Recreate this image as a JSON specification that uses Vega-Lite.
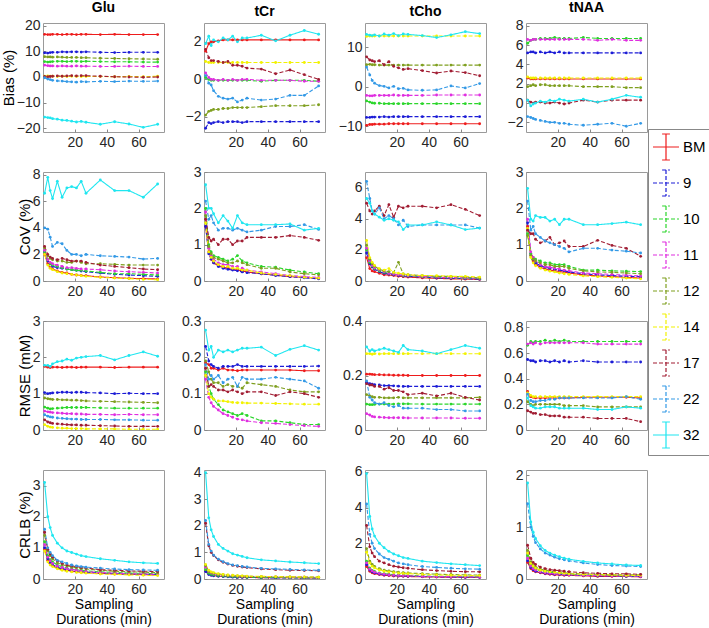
{
"$schema":"https://vega.github.io/schema/vega-lite/v6.json",
"padding":{"left":0,"top":0,"right":0,"bottom":0},
"datasets":{"d":[
{"m":"B","c":"Glu","s":"BM","x":[1,3,4.5,6,9,12,15,18,21,24,27,36,45,54,63,72],"y":[16.6,16.5,16.5,16.6,16.6,16.5,16.6,16.6,16.5,16.6,16.6,16.5,16.6,16.5,16.5,16.5]},
{"m":"B","c":"Glu","s":"9","x":[1,3,4.5,6,9,12,15,18,21,24,27,36,45,54,63,72],"y":[9.4,9.3,9.5,9.6,9.6,9.8,9.7,9.8,9.8,9.7,9.8,9.6,9.5,9.6,9.6,9.6]},
{"m":"B","c":"Glu","s":"10","x":[1,3,4.5,6,9,12,15,18,21,24,27,36,45,54,63,72],"y":[6.0,5.8,5.9,6.0,6.1,6.1,6.0,6.1,6.1,6.0,6.1,6.0,5.9,5.9,5.8,5.8]},
{"m":"B","c":"Glu","s":"11","x":[1,3,4.5,6,9,12,15,18,21,24,27,36,45,54,63,72],"y":[4.6,4.4,4.3,4.3,4.2,4.3,4.2,4.2,4.3,4.2,4.2,4.1,4.1,4.2,4.1,4.1]},
{"m":"B","c":"Glu","s":"12","x":[1,3,4.5,6,9,12,15,18,21,24,27,36,45,54,63,72],"y":[7.9,7.8,7.8,7.7,7.8,7.7,7.6,7.6,7.6,7.5,7.5,7.3,7.2,7.1,7.0,6.9]},
{"m":"B","c":"Glu","s":"14","x":[1,3,4.5,6,9,12,15,18,21,24,27,36,45,54,63,72],"y":[0.3,0.4,0.3,0.3,0.2,0.3,0.2,0.3,0.2,0.2,0.2,0.2,0.1,0.2,0.1,0.3]},
{"m":"B","c":"Glu","s":"17","x":[1,3,4.5,6,9,12,15,18,21,24,27,36,45,54,63,72],"y":[0.2,0.1,0.2,0.3,0.4,0.3,0.4,0.5,0.4,0.5,0.5,0.3,0.1,0.0,-0.1,0.0]},
{"m":"B","c":"Glu","s":"22","x":[1,3,4.5,6,9,12,15,18,21,24,27,36,45,54,63,72],"y":[-0.3,-0.8,-1.0,-1.3,-1.5,-1.6,-1.8,-1.9,-2.0,-1.8,-1.9,-1.7,-1.8,-1.6,-1.7,-1.6]},
{"m":"B","c":"Glu","s":"32","x":[1,3,4.5,6,9,12,15,18,21,24,27,36,45,54,63,72],"y":[-15.6,-15.8,-15.9,-16.2,-16.4,-16.8,-16.9,-17.2,-17.5,-17.3,-17.6,-18.4,-17.4,-18.3,-19.6,-18.4]},
{"m":"B","c":"tCr","s":"BM","x":[1,3,4.5,6,9,12,15,18,21,24,27,36,45,54,63,72],"y":[1.5,1.9,2.0,2.0,2.05,2.1,2.1,2.1,2.1,2.1,2.1,2.1,2.1,2.1,2.1,2.1]},
{"m":"B","c":"tCr","s":"9","x":[1,3,4.5,6,9,12,15,18,21,24,27,36,45,54,63,72],"y":[-2.6,-2.3,-2.35,-2.3,-2.25,-2.3,-2.25,-2.25,-2.25,-2.3,-2.25,-2.25,-2.25,-2.25,-2.25,-2.25]},
{"m":"B","c":"tCr","s":"10","x":[1,3,4.5,6,9,12,15,18,21,24,27,36,45,54,63,72],"y":[0.1,0.0,-0.05,-0.05,-0.05,-0.05,-0.05,-0.05,-0.05,-0.05,-0.05,-0.1,-0.05,-0.05,-0.05,-0.1]},
{"m":"B","c":"tCr","s":"11","x":[1,3,4.5,6,9,12,15,18,21,24,27,36,45,54,63,72],"y":[0.35,0.1,0.0,0.0,-0.05,0.0,-0.05,0.0,-0.05,0.0,0.0,-0.05,-0.05,-0.05,-0.1,-0.1]},
{"m":"B","c":"tCr","s":"12","x":[1,3,4.5,6,9,12,15,18,21,24,27,36,45,54,63,72],"y":[-1.9,-1.7,-1.65,-1.6,-1.6,-1.55,-1.55,-1.5,-1.5,-1.5,-1.5,-1.45,-1.4,-1.4,-1.4,-1.35]},
{"m":"B","c":"tCr","s":"14","x":[1,3,4.5,6,9,12,15,18,21,24,27,36,45,54,63,72],"y":[0.95,0.9,0.9,0.9,0.9,0.9,0.9,0.9,0.9,0.9,0.9,0.9,0.9,0.9,0.9,0.9]},
{"m":"B","c":"tCr","s":"17","x":[1,3,4.5,6,9,12,15,18,21,24,27,36,45,54,63,72],"y":[1.6,1.15,1.0,1.0,0.95,0.9,0.95,0.75,0.75,0.7,0.6,0.55,0.3,0.5,0.25,0.0]},
{"m":"B","c":"tCr","s":"22","x":[1,3,4.5,6,9,12,15,18,21,24,27,36,45,54,63,72],"y":[0.2,-0.2,-0.3,-0.6,-0.9,-1.0,-1.05,-1.0,-1.2,-1.1,-1.0,-1.1,-1.05,-0.85,-0.85,-0.35]},
{"m":"B","c":"tCr","s":"32","x":[1,3,4.5,6,9,12,15,18,21,24,27,36,45,54,63,72],"y":[1.9,2.3,1.8,2.1,2.0,2.2,2.1,2.3,2.0,2.2,2.2,2.35,2.05,2.35,2.6,2.4]},
{"m":"B","c":"tCho","s":"BM","x":[1,3,4.5,6,9,12,15,18,21,24,27,36,45,54,63,72],"y":[-9.8,-9.6,-9.6,-9.5,-9.5,-9.5,-9.4,-9.4,-9.4,-9.4,-9.4,-9.4,-9.4,-9.4,-9.4,-9.4]},
{"m":"B","c":"tCho","s":"9","x":[1,3,4.5,6,9,12,15,18,21,24,27,36,45,54,63,72],"y":[-7.8,-7.8,-7.7,-7.7,-7.7,-7.6,-7.7,-7.6,-7.6,-7.6,-7.6,-7.6,-7.6,-7.6,-7.6,-7.6]},
{"m":"B","c":"tCho","s":"10","x":[1,3,4.5,6,9,12,15,18,21,24,27,36,45,54,63,72],"y":[-3.6,-3.9,-4.1,-4.2,-4.2,-4.3,-4.3,-4.3,-4.3,-4.3,-4.3,-4.3,-4.3,-4.3,-4.3,-4.3]},
{"m":"B","c":"tCho","s":"11","x":[1,3,4.5,6,9,12,15,18,21,24,27,36,45,54,63,72],"y":[-2.2,-2.3,-2.3,-2.2,-2.2,-2.2,-2.2,-2.1,-2.2,-2.2,-2.2,-2.2,-2.1,-2.1,-2.1,-2.1]},
{"m":"B","c":"tCho","s":"12","x":[1,3,4.5,6,9,12,15,18,21,24,27,36,45,54,63,72],"y":[5.6,5.7,5.6,5.6,5.5,5.5,5.5,5.5,5.5,5.5,5.5,5.5,5.5,5.5,5.5,5.5]},
{"m":"B","c":"tCho","s":"14","x":[1,3,4.5,6,9,12,15,18,21,24,27,36,45,54,63,72],"y":[12.8,12.9,12.9,12.9,12.9,12.9,12.9,12.9,12.9,12.9,12.9,12.9,12.9,12.9,12.9,12.9]},
{"m":"B","c":"tCho","s":"17","x":[1,3,4.5,6,9,12,15,18,21,24,27,36,45,54,63,72],"y":[7.6,6.8,6.6,6.4,6.6,5.6,6.4,5.2,4.8,4.4,4.6,4.1,3.5,4.0,3.6,2.8]},
{"m":"B","c":"tCho","s":"22","x":[1,3,4.5,6,9,12,15,18,21,24,27,36,45,54,63,72],"y":[5.0,3.0,1.6,0.9,0.3,0.1,-0.3,0.1,-0.5,-0.4,-0.8,-0.9,-0.8,0.2,-0.3,0.8]},
{"m":"B","c":"tCho","s":"32","x":[1,3,4.5,6,9,12,15,18,21,24,27,36,45,54,63,72],"y":[13.3,13.1,13.0,13.2,12.9,13.4,13.1,13.5,13.0,13.4,13.3,13.0,12.5,13.2,14.0,13.5]},
{"m":"B","c":"tNAA","s":"BM","x":[1,3,4.5,6,9,12,15,18,21,24,27,36,45,54,63,72],"y":[2.6,2.5,2.5,2.5,2.5,2.5,2.5,2.5,2.5,2.5,2.5,2.5,2.5,2.5,2.5,2.5]},
{"m":"B","c":"tNAA","s":"9","x":[1,3,4.5,6,9,12,15,18,21,24,27,36,45,54,63,72],"y":[5.2,5.3,5.3,5.2,5.3,5.2,5.3,5.2,5.3,5.2,5.2,5.2,5.2,5.2,5.2,5.2]},
{"m":"B","c":"tNAA","s":"10","x":[1,3,4.5,6,9,12,15,18,21,24,27,36,45,54,63,72],"y":[6.2,6.5,6.6,6.6,6.7,6.7,6.7,6.8,6.7,6.7,6.7,6.8,6.7,6.7,6.7,6.7]},
{"m":"B","c":"tNAA","s":"11","x":[1,3,4.5,6,9,12,15,18,21,24,27,36,45,54,63,72],"y":[6.6,6.5,6.6,6.6,6.6,6.6,6.6,6.6,6.6,6.6,6.6,6.6,6.5,6.6,6.5,6.5]},
{"m":"B","c":"tNAA","s":"12","x":[1,3,4.5,6,9,12,15,18,21,24,27,36,45,54,63,72],"y":[1.7,1.8,1.9,1.8,1.9,1.9,1.8,1.8,1.8,1.8,1.8,1.7,1.7,1.7,1.6,1.6]},
{"m":"B","c":"tNAA","s":"14","x":[1,3,4.5,6,9,12,15,18,21,24,27,36,45,54,63,72],"y":[2.7,2.6,2.6,2.6,2.6,2.6,2.6,2.6,2.6,2.6,2.6,2.6,2.6,2.6,2.6,2.6]},
{"m":"B","c":"tNAA","s":"17","x":[1,3,4.5,6,9,12,15,18,21,24,27,36,45,54,63,72],"y":[0.3,0.1,0.0,0.1,0.1,0.0,0.0,0.1,0.0,-0.1,0.0,0.3,0.1,0.3,0.3,0.3]},
{"m":"B","c":"tNAA","s":"22","x":[1,3,4.5,6,9,12,15,18,21,24,27,36,45,54,63,72],"y":[-1.4,-1.5,-1.6,-1.7,-1.8,-1.9,-2.0,-2.0,-2.1,-2.1,-2.2,-2.3,-2.2,-2.1,-2.4,-2.1]},
{"m":"B","c":"tNAA","s":"32","x":[1,3,4.5,6,9,12,15,18,21,24,27,36,45,54,63,72],"y":[0.3,-0.3,-0.1,0.0,0.2,0.1,0.3,0.2,0.4,0.3,0.2,0.4,0.1,0.4,0.8,0.6]},
{"m":"C","c":"Glu","s":"BM","x":[1,3,4.5,6,9,12,15,18,21,24,27,36,45,54,63,72],"y":[2.0,1.3,1.0,0.9,0.75,0.65,0.6,0.5,0.45,0.42,0.4,0.3,0.25,0.2,0.18,0.15]},
{"m":"C","c":"Glu","s":"9","x":[1,3,4.5,6,9,12,15,18,21,24,27,36,45,54,63,72],"y":[2.2,1.5,1.3,1.1,1.0,0.95,0.9,0.85,0.8,0.75,0.7,0.6,0.5,0.45,0.4,0.35]},
{"m":"C","c":"Glu","s":"10","x":[1,3,4.5,6,9,12,15,18,21,24,27,36,45,54,63,72],"y":[2.2,1.6,1.3,1.2,1.1,1.0,0.9,0.85,0.8,0.8,0.75,0.65,0.55,0.55,0.5,0.45]},
{"m":"C","c":"Glu","s":"11","x":[1,3,4.5,6,9,12,15,18,21,24,27,36,45,54,63,72],"y":[2.3,1.6,1.4,1.3,1.2,1.1,1.0,1.0,0.95,0.9,0.9,0.85,0.75,0.7,0.65,0.6]},
{"m":"C","c":"Glu","s":"12","x":[1,3,4.5,6,9,12,15,18,21,24,27,36,45,54,63,72],"y":[2.5,1.9,1.7,1.6,1.5,1.5,1.4,1.4,1.5,1.4,1.3,1.3,1.25,1.2,1.2,1.2]},
{"m":"C","c":"Glu","s":"14","x":[1,3,4.5,6,9,12,15,18,21,24,27,36,45,54,63,72],"y":[2.0,1.2,0.95,0.85,0.7,0.6,0.55,0.5,0.45,0.4,0.35,0.28,0.22,0.18,0.12,0.1]},
{"m":"C","c":"Glu","s":"17","x":[1,3,4.5,6,9,12,15,18,21,24,27,36,45,54,63,72],"y":[2.6,2.0,1.8,1.7,1.6,1.7,1.6,1.5,1.5,1.5,1.4,1.2,1.1,1.0,0.9,0.85]},
{"m":"C","c":"Glu","s":"22","x":[1,3,4.5,6,9,12,15,18,21,24,27,36,45,54,63,72],"y":[4.0,3.9,3.3,2.6,2.9,2.8,2.3,2.0,2.0,1.9,2.0,1.9,1.85,1.8,1.65,1.7]},
{"m":"C","c":"Glu","s":"32","x":[1,3,4.5,6,9,12,15,18,21,24,27,36,45,54,63,72],"y":[6.6,7.8,6.8,6.2,7.5,6.3,7.0,7.1,7.0,7.5,6.6,7.6,6.8,6.8,6.3,7.3]},
{"m":"C","c":"tCr","s":"BM","x":[1,3,4.5,6,9,12,15,18,21,24,27,36,45,54,63,72],"y":[1.5,0.8,0.6,0.5,0.42,0.38,0.35,0.32,0.3,0.28,0.25,0.2,0.16,0.12,0.1,0.07]},
{"m":"C","c":"tCr","s":"9","x":[1,3,4.5,6,9,12,15,18,21,24,27,36,45,54,63,72],"y":[1.5,0.75,0.6,0.5,0.4,0.35,0.32,0.3,0.28,0.25,0.23,0.2,0.15,0.12,0.09,0.06]},
{"m":"C","c":"tCr","s":"10","x":[1,3,4.5,6,9,12,15,18,21,24,27,36,45,54,63,72],"y":[2.0,1.0,0.8,0.7,0.65,0.6,0.55,0.6,0.7,0.55,0.5,0.4,0.38,0.3,0.25,0.2]},
{"m":"C","c":"tCr","s":"11","x":[1,3,4.5,6,9,12,15,18,21,24,27,36,45,54,63,72],"y":[1.9,0.9,0.7,0.6,0.5,0.45,0.45,0.4,0.4,0.35,0.3,0.25,0.2,0.15,0.12,0.1]},
{"m":"C","c":"tCr","s":"12","x":[1,3,4.5,6,9,12,15,18,21,24,27,36,45,54,63,72],"y":[1.8,0.95,0.75,0.65,0.6,0.55,0.5,0.5,0.55,0.5,0.45,0.35,0.35,0.25,0.2,0.17]},
{"m":"C","c":"tCr","s":"14","x":[1,3,4.5,6,9,12,15,18,21,24,27,36,45,54,63,72],"y":[1.6,0.8,0.65,0.55,0.45,0.4,0.4,0.35,0.35,0.3,0.3,0.22,0.18,0.15,0.1,0.08]},
{"m":"C","c":"tCr","s":"17","x":[1,3,4.5,6,9,12,15,18,21,24,27,36,45,54,63,72],"y":[1.7,1.2,1.1,1.15,1.0,1.15,1.15,1.0,1.1,1.1,1.2,1.2,1.2,1.25,1.2,1.12]},
{"m":"C","c":"tCr","s":"22","x":[1,3,4.5,6,9,12,15,18,21,24,27,36,45,54,63,72],"y":[2.2,1.7,1.8,1.6,1.4,1.45,1.45,1.4,1.45,1.4,1.35,1.4,1.5,1.5,1.55,1.42]},
{"m":"C","c":"tCr","s":"32","x":[1,3,4.5,6,9,12,15,18,21,24,27,36,45,54,63,72],"y":[2.65,2.0,2.0,1.85,1.6,1.8,1.65,1.45,1.8,1.6,1.55,1.55,1.55,1.57,1.4,1.45]},
{"m":"C","c":"tCho","s":"BM","x":[1,3,4.5,6,9,12,15,18,21,24,27,36,45,54,63,72],"y":[1.5,0.8,0.65,0.6,0.5,0.4,0.38,0.35,0.3,0.28,0.25,0.2,0.17,0.14,0.12,0.1]},
{"m":"C","c":"tCho","s":"9","x":[1,3,4.5,6,9,12,15,18,21,24,27,36,45,54,63,72],"y":[1.8,1.1,0.9,0.75,0.6,0.5,0.45,0.4,0.35,0.32,0.3,0.25,0.2,0.17,0.15,0.12]},
{"m":"C","c":"tCho","s":"10","x":[1,3,4.5,6,9,12,15,18,21,24,27,36,45,54,63,72],"y":[2.0,1.2,0.95,0.8,0.65,0.55,0.5,0.45,0.4,0.35,0.33,0.28,0.25,0.2,0.18,0.15]},
{"m":"C","c":"tCho","s":"11","x":[1,3,4.5,6,9,12,15,18,21,24,27,36,45,54,63,72],"y":[2.1,1.3,1.0,0.85,0.7,0.6,0.5,0.45,0.4,0.38,0.35,0.3,0.25,0.22,0.2,0.18]},
{"m":"C","c":"tCho","s":"12","x":[1,3,4.5,6,9,12,15,18,21,24,27,36,45,54,63,72],"y":[2.3,1.4,1.1,0.95,0.75,0.65,0.6,0.55,1.2,0.45,0.4,0.35,0.3,0.3,0.25,0.2]},
{"m":"C","c":"tCho","s":"14","x":[1,3,4.5,6,9,12,15,18,21,24,27,36,45,54,63,72],"y":[2.6,1.5,1.2,1.0,0.8,0.7,0.8,0.55,0.5,0.45,0.4,0.35,0.35,0.3,0.3,0.25]},
{"m":"C","c":"tCho","s":"17","x":[1,3,4.5,6,9,12,15,18,21,24,27,36,45,54,63,72],"y":[5.0,4.5,4.3,4.5,4.8,4.2,4.9,4.1,4.8,4.7,4.8,4.8,4.7,4.9,4.6,4.2]},
{"m":"C","c":"tCho","s":"22","x":[1,3,4.5,6,9,12,15,18,21,24,27,36,45,54,63,72],"y":[6.4,5.3,4.5,4.3,4.7,4.0,4.2,4.0,3.6,3.9,3.5,3.6,3.6,3.6,3.6,3.4]},
{"m":"C","c":"tCho","s":"32","x":[1,3,4.5,6,9,12,15,18,21,24,27,36,45,54,63,72],"y":[5.3,5.0,4.5,4.3,4.1,3.9,4.0,3.9,3.8,3.3,3.6,3.6,3.8,3.6,3.3,3.4]},
{"m":"C","c":"tNAA","s":"BM","x":[1,3,4.5,6,9,12,15,18,21,24,27,36,45,54,63,72],"y":[1.5,0.7,0.55,0.45,0.38,0.33,0.3,0.28,0.26,0.24,0.22,0.17,0.14,0.12,0.1,0.08]},
{"m":"C","c":"tNAA","s":"9","x":[1,3,4.5,6,9,12,15,18,21,24,27,36,45,54,63,72],"y":[1.6,0.75,0.6,0.5,0.42,0.38,0.35,0.32,0.3,0.28,0.25,0.2,0.17,0.15,0.13,0.12]},
{"m":"C","c":"tNAA","s":"10","x":[1,3,4.5,6,9,12,15,18,21,24,27,36,45,54,63,72],"y":[1.3,0.75,0.65,0.6,0.55,0.5,0.5,0.45,0.45,0.45,0.4,0.3,0.3,0.28,0.27,0.26]},
{"m":"C","c":"tNAA","s":"11","x":[1,3,4.5,6,9,12,15,18,21,24,27,36,45,54,63,72],"y":[1.7,0.8,0.65,0.55,0.45,0.4,0.38,0.35,0.33,0.3,0.28,0.22,0.2,0.18,0.16,0.14]},
{"m":"C","c":"tNAA","s":"12","x":[1,3,4.5,6,9,12,15,18,21,24,27,36,45,54,63,72],"y":[1.25,0.7,0.6,0.55,0.5,0.45,0.45,0.4,0.4,0.4,0.35,0.28,0.25,0.24,0.22,0.2]},
{"m":"C","c":"tNAA","s":"14","x":[1,3,4.5,6,9,12,15,18,21,24,27,36,45,54,63,72],"y":[1.45,0.65,0.5,0.42,0.35,0.3,0.27,0.25,0.22,0.2,0.18,0.14,0.12,0.1,0.08,0.06]},
{"m":"C","c":"tNAA","s":"17","x":[1,3,4.5,6,9,12,15,18,21,24,27,36,45,54,63,72],"y":[1.4,1.3,1.3,1.15,1.05,1.1,1.2,1.0,1.05,1.1,0.95,0.95,1.12,0.98,0.9,0.68]},
{"m":"C","c":"tNAA","s":"22","x":[1,3,4.5,6,9,12,15,18,21,24,27,36,45,54,63,72],"y":[2.2,1.4,1.5,1.3,1.2,1.1,1.05,1.0,0.95,0.9,0.8,0.9,0.9,0.85,0.82,0.77]},
{"m":"C","c":"tNAA","s":"32","x":[1,3,4.5,6,9,12,15,18,21,24,27,36,45,54,63,72],"y":[2.55,1.7,1.65,1.8,1.75,1.75,1.65,1.7,1.55,1.7,1.7,1.55,1.55,1.58,1.62,1.55]},
{"m":"R","c":"Glu","s":"BM","x":[1,3,4.5,6,9,12,15,18,21,24,27,36,45,54,63,72],"y":[1.75,1.73,1.72,1.73,1.73,1.72,1.73,1.73,1.72,1.73,1.73,1.73,1.72,1.73,1.73,1.73]},
{"m":"R","c":"Glu","s":"9","x":[1,3,4.5,6,9,12,15,18,21,24,27,36,45,54,63,72],"y":[1.03,1.0,1.01,1.02,1.03,1.04,1.04,1.03,1.04,1.04,1.03,1.02,1.0,1.01,1.0,1.0]},
{"m":"R","c":"Glu","s":"10","x":[1,3,4.5,6,9,12,15,18,21,24,27,36,45,54,63,72],"y":[0.63,0.6,0.58,0.59,0.6,0.61,0.62,0.62,0.62,0.62,0.62,0.61,0.6,0.6,0.6,0.6]},
{"m":"R","c":"Glu","s":"11","x":[1,3,4.5,6,9,12,15,18,21,24,27,36,45,54,63,72],"y":[0.52,0.5,0.49,0.48,0.47,0.46,0.45,0.45,0.44,0.44,0.43,0.43,0.42,0.43,0.42,0.42]},
{"m":"R","c":"Glu","s":"12","x":[1,3,4.5,6,9,12,15,18,21,24,27,36,45,54,63,72],"y":[0.88,0.86,0.85,0.84,0.84,0.83,0.83,0.82,0.82,0.81,0.8,0.79,0.78,0.77,0.76,0.75]},
{"m":"R","c":"Glu","s":"14","x":[1,3,4.5,6,9,12,15,18,21,24,27,36,45,54,63,72],"y":[0.15,0.1,0.08,0.07,0.06,0.05,0.05,0.04,0.04,0.04,0.03,0.03,0.03,0.02,0.02,0.02]},
{"m":"R","c":"Glu","s":"17","x":[1,3,4.5,6,9,12,15,18,21,24,27,36,45,54,63,72],"y":[0.28,0.22,0.2,0.18,0.17,0.16,0.15,0.14,0.14,0.13,0.13,0.12,0.11,0.1,0.1,0.1]},
{"m":"R","c":"Glu","s":"22","x":[1,3,4.5,6,9,12,15,18,21,24,27,36,45,54,63,72],"y":[0.42,0.38,0.36,0.35,0.33,0.32,0.31,0.3,0.3,0.29,0.29,0.29,0.28,0.28,0.27,0.27]},
{"m":"R","c":"Glu","s":"32","x":[1,3,4.5,6,9,12,15,18,21,24,27,36,45,54,63,72],"y":[1.78,1.78,1.75,1.82,1.88,1.9,1.95,1.92,1.98,2.0,2.02,2.05,1.93,2.05,2.15,2.03]},
{"m":"R","c":"tCr","s":"BM","x":[1,3,4.5,6,9,12,15,18,21,24,27,36,45,54,63,72],"y":[0.185,0.18,0.17,0.17,0.165,0.17,0.165,0.165,0.163,0.165,0.165,0.165,0.165,0.165,0.163,0.163]},
{"m":"R","c":"tCr","s":"9","x":[1,3,4.5,6,9,12,15,18,21,24,27,36,45,54,63,72],"y":[0.23,0.19,0.18,0.175,0.17,0.175,0.175,0.175,0.18,0.175,0.175,0.175,0.175,0.175,0.175,0.176]},
{"m":"R","c":"tCr","s":"10","x":[1,3,4.5,6,9,12,15,18,21,24,27,36,45,54,63,72],"y":[0.16,0.12,0.1,0.085,0.07,0.055,0.05,0.045,0.04,0.045,0.04,0.025,0.025,0.02,0.015,0.015]},
{"m":"R","c":"tCr","s":"11","x":[1,3,4.5,6,9,12,15,18,21,24,27,36,45,54,63,72],"y":[0.14,0.09,0.075,0.065,0.055,0.045,0.04,0.035,0.03,0.028,0.025,0.02,0.018,0.015,0.012,0.01]},
{"m":"R","c":"tCr","s":"12","x":[1,3,4.5,6,9,12,15,18,21,24,27,36,45,54,63,72],"y":[0.19,0.16,0.14,0.13,0.13,0.12,0.125,0.12,0.12,0.115,0.13,0.125,0.12,0.11,0.105,0.105]},
{"m":"R","c":"tCr","s":"14","x":[1,3,4.5,6,9,12,15,18,21,24,27,36,45,54,63,72],"y":[0.15,0.1,0.09,0.085,0.08,0.08,0.078,0.076,0.075,0.075,0.074,0.074,0.073,0.072,0.071,0.071]},
{"m":"R","c":"tCr","s":"17","x":[1,3,4.5,6,9,12,15,18,21,24,27,36,45,54,63,72],"y":[0.17,0.12,0.125,0.12,0.11,0.11,0.105,0.11,0.105,0.1,0.105,0.105,0.095,0.105,0.1,0.09]},
{"m":"R","c":"tCr","s":"22","x":[1,3,4.5,6,9,12,15,18,21,24,27,36,45,54,63,72],"y":[0.18,0.14,0.15,0.14,0.15,0.13,0.14,0.145,0.12,0.145,0.14,0.14,0.145,0.14,0.135,0.115]},
{"m":"R","c":"tCr","s":"32","x":[1,3,4.5,6,9,12,15,18,21,24,27,36,45,54,63,72],"y":[0.275,0.22,0.23,0.2,0.22,0.215,0.22,0.215,0.22,0.225,0.225,0.228,0.205,0.222,0.232,0.22]},
{"m":"R","c":"tCho","s":"BM","x":[1,3,4.5,6,9,12,15,18,21,24,27,36,45,54,63,72],"y":[0.205,0.205,0.204,0.203,0.203,0.202,0.202,0.201,0.201,0.201,0.2,0.2,0.2,0.2,0.2,0.2]},
{"m":"R","c":"tCho","s":"9","x":[1,3,4.5,6,9,12,15,18,21,24,27,36,45,54,63,72],"y":[0.175,0.17,0.168,0.166,0.165,0.163,0.163,0.162,0.161,0.16,0.16,0.16,0.16,0.16,0.16,0.16]},
{"m":"R","c":"tCho","s":"10","x":[1,3,4.5,6,9,12,15,18,21,24,27,36,45,54,63,72],"y":[0.095,0.093,0.093,0.094,0.095,0.095,0.095,0.095,0.096,0.096,0.096,0.095,0.095,0.095,0.095,0.095]},
{"m":"R","c":"tCho","s":"11","x":[1,3,4.5,6,9,12,15,18,21,24,27,36,45,54,63,72],"y":[0.06,0.055,0.05,0.048,0.047,0.046,0.045,0.045,0.045,0.045,0.044,0.044,0.044,0.044,0.043,0.043]},
{"m":"R","c":"tCho","s":"12","x":[1,3,4.5,6,9,12,15,18,21,24,27,36,45,54,63,72],"y":[0.13,0.125,0.122,0.12,0.12,0.118,0.118,0.118,0.12,0.118,0.118,0.118,0.118,0.118,0.118,0.12]},
{"m":"R","c":"tCho","s":"14","x":[1,3,4.5,6,9,12,15,18,21,24,27,36,45,54,63,72],"y":[0.28,0.28,0.278,0.28,0.279,0.28,0.28,0.28,0.28,0.28,0.28,0.28,0.28,0.28,0.28,0.28]},
{"m":"R","c":"tCho","s":"17","x":[1,3,4.5,6,9,12,15,18,21,24,27,36,45,54,63,72],"y":[0.17,0.165,0.165,0.16,0.16,0.15,0.155,0.145,0.145,0.14,0.13,0.135,0.125,0.135,0.12,0.11]},
{"m":"R","c":"tCho","s":"22","x":[1,3,4.5,6,9,12,15,18,21,24,27,36,45,54,63,72],"y":[0.18,0.12,0.11,0.1,0.095,0.1,0.09,0.085,0.09,0.08,0.08,0.08,0.075,0.075,0.07,0.07]},
{"m":"R","c":"tCho","s":"32","x":[1,3,4.5,6,9,12,15,18,21,24,27,36,45,54,63,72],"y":[0.305,0.29,0.295,0.29,0.295,0.3,0.295,0.29,0.285,0.31,0.295,0.29,0.28,0.295,0.31,0.3]},
{"m":"R","c":"tNAA","s":"BM","x":[1,3,4.5,6,9,12,15,18,21,24,27,36,45,54,63,72],"y":[0.3,0.26,0.255,0.25,0.25,0.25,0.25,0.25,0.25,0.25,0.25,0.255,0.255,0.255,0.255,0.25]},
{"m":"R","c":"tNAA","s":"9","x":[1,3,4.5,6,9,12,15,18,21,24,27,36,45,54,63,72],"y":[0.55,0.54,0.54,0.53,0.54,0.54,0.53,0.54,0.53,0.54,0.53,0.54,0.53,0.53,0.53,0.53]},
{"m":"R","c":"tNAA","s":"10","x":[1,3,4.5,6,9,12,15,18,21,24,27,36,45,54,63,72],"y":[0.66,0.69,0.68,0.69,0.69,0.7,0.69,0.7,0.69,0.7,0.69,0.69,0.69,0.69,0.69,0.69]},
{"m":"R","c":"tNAA","s":"11","x":[1,3,4.5,6,9,12,15,18,21,24,27,36,45,54,63,72],"y":[0.67,0.68,0.67,0.68,0.67,0.68,0.68,0.68,0.68,0.68,0.68,0.68,0.67,0.67,0.67,0.67]},
{"m":"R","c":"tNAA","s":"12","x":[1,3,4.5,6,9,12,15,18,21,24,27,36,45,54,63,72],"y":[0.22,0.2,0.19,0.2,0.2,0.2,0.2,0.2,0.2,0.19,0.19,0.19,0.18,0.18,0.18,0.18]},
{"m":"R","c":"tNAA","s":"14","x":[1,3,4.5,6,9,12,15,18,21,24,27,36,45,54,63,72],"y":[0.29,0.27,0.26,0.26,0.26,0.26,0.26,0.26,0.26,0.26,0.26,0.26,0.26,0.26,0.26,0.26]},
{"m":"R","c":"tNAA","s":"17","x":[1,3,4.5,6,9,12,15,18,21,24,27,36,45,54,63,72],"y":[0.15,0.14,0.13,0.13,0.12,0.12,0.11,0.11,0.11,0.1,0.1,0.1,0.09,0.09,0.09,0.065]},
{"m":"R","c":"tNAA","s":"22","x":[1,3,4.5,6,9,12,15,18,21,24,27,36,45,54,63,72],"y":[0.28,0.23,0.22,0.22,0.23,0.23,0.24,0.24,0.25,0.25,0.25,0.25,0.25,0.25,0.26,0.24]},
{"m":"R","c":"tNAA","s":"32","x":[1,3,4.5,6,9,12,15,18,21,24,27,36,45,54,63,72],"y":[0.25,0.19,0.18,0.17,0.17,0.18,0.18,0.18,0.17,0.17,0.17,0.17,0.16,0.16,0.18,0.17]},
{"m":"L","c":"Glu","s":"BM","x":[1,3,4.5,6,9,12,15,18,21,24,27,36,45,54,63,72],"y":[0.95,0.6,0.5,0.43,0.35,0.31,0.28,0.25,0.23,0.22,0.2,0.18,0.16,0.15,0.14,0.13]},
{"m":"L","c":"Glu","s":"9","x":[1,3,4.5,6,9,12,15,18,21,24,27,36,45,54,63,72],"y":[1.0,0.65,0.53,0.46,0.38,0.33,0.3,0.27,0.25,0.24,0.22,0.19,0.17,0.16,0.15,0.14]},
{"m":"L","c":"Glu","s":"10","x":[1,3,4.5,6,9,12,15,18,21,24,27,36,45,54,63,72],"y":[1.2,0.75,0.62,0.55,0.45,0.4,0.35,0.32,0.3,0.28,0.26,0.23,0.21,0.19,0.18,0.17]},
{"m":"L","c":"Glu","s":"11","x":[1,3,4.5,6,9,12,15,18,21,24,27,36,45,54,63,72],"y":[1.1,0.7,0.58,0.5,0.42,0.37,0.33,0.3,0.28,0.26,0.24,0.21,0.19,0.17,0.16,0.15]},
{"m":"L","c":"Glu","s":"12","x":[1,3,4.5,6,9,12,15,18,21,24,27,36,45,54,63,72],"y":[1.4,0.9,0.75,0.65,0.52,0.46,0.42,0.38,0.36,0.34,0.32,0.28,0.25,0.23,0.22,0.2]},
{"m":"L","c":"Glu","s":"14","x":[1,3,4.5,6,9,12,15,18,21,24,27,36,45,54,63,72],"y":[0.9,0.55,0.45,0.4,0.33,0.28,0.25,0.23,0.21,0.2,0.19,0.16,0.15,0.13,0.12,0.11]},
{"m":"L","c":"Glu","s":"17","x":[1,3,4.5,6,9,12,15,18,21,24,27,36,45,54,63,72],"y":[1.5,0.95,0.8,0.7,0.58,0.5,0.45,0.42,0.4,0.37,0.35,0.3,0.28,0.26,0.25,0.24]},
{"m":"L","c":"Glu","s":"22","x":[1,3,4.5,6,9,12,15,18,21,24,27,36,45,54,63,72],"y":[1.6,1.0,0.85,0.75,0.6,0.55,0.5,0.45,0.42,0.4,0.38,0.35,0.32,0.3,0.29,0.28]},
{"m":"L","c":"Glu","s":"32","x":[1,3,4.5,6,9,12,15,18,21,24,27,36,45,54,63,72],"y":[3.1,2.0,1.65,1.4,1.15,1.0,0.9,0.85,0.8,0.75,0.72,0.65,0.6,0.55,0.52,0.5]},
{"m":"L","c":"tCr","s":"BM","x":[1,3,4.5,6,9,12,15,18,21,24,27,36,45,54,63,72],"y":[0.3,0.19,0.15,0.13,0.11,0.1,0.09,0.08,0.07,0.07,0.06,0.05,0.05,0.05,0.04,0.04]},
{"m":"L","c":"tCr","s":"9","x":[1,3,4.5,6,9,12,15,18,21,24,27,36,45,54,63,72],"y":[0.28,0.17,0.14,0.12,0.1,0.09,0.08,0.07,0.06,0.06,0.06,0.05,0.04,0.04,0.04,0.04]},
{"m":"L","c":"tCr","s":"10","x":[1,3,4.5,6,9,12,15,18,21,24,27,36,45,54,63,72],"y":[0.35,0.22,0.18,0.16,0.13,0.11,0.1,0.09,0.08,0.08,0.07,0.06,0.06,0.05,0.05,0.05]},
{"m":"L","c":"tCr","s":"11","x":[1,3,4.5,6,9,12,15,18,21,24,27,36,45,54,63,72],"y":[0.45,0.28,0.23,0.2,0.17,0.15,0.13,0.12,0.11,0.1,0.1,0.09,0.08,0.07,0.07,0.06]},
{"m":"L","c":"tCr","s":"12","x":[1,3,4.5,6,9,12,15,18,21,24,27,36,45,54,63,72],"y":[0.5,0.3,0.25,0.22,0.18,0.16,0.14,0.13,0.12,0.11,0.1,0.09,0.08,0.08,0.07,0.07]},
{"m":"L","c":"tCr","s":"14","x":[1,3,4.5,6,9,12,15,18,21,24,27,36,45,54,63,72],"y":[0.55,0.33,0.27,0.24,0.2,0.17,0.15,0.14,0.13,0.12,0.11,0.1,0.09,0.08,0.08,0.07]},
{"m":"L","c":"tCr","s":"17","x":[1,3,4.5,6,9,12,15,18,21,24,27,36,45,54,63,72],"y":[2.1,1.25,1.0,0.88,0.72,0.63,0.56,0.51,0.48,0.45,0.43,0.38,0.35,0.33,0.32,0.31]},
{"m":"L","c":"tCr","s":"22","x":[1,3,4.5,6,9,12,15,18,21,24,27,36,45,54,63,72],"y":[2.2,1.3,1.05,0.9,0.75,0.65,0.58,0.53,0.5,0.47,0.45,0.4,0.38,0.36,0.34,0.33]},
{"m":"L","c":"tCr","s":"32","x":[1,3,4.5,6,9,12,15,18,21,24,27,36,45,54,63,72],"y":[4.0,2.3,1.85,1.6,1.3,1.15,1.05,0.95,0.9,0.85,0.8,0.72,0.68,0.64,0.61,0.58]},
{"m":"L","c":"tCho","s":"BM","x":[1,3,4.5,6,9,12,15,18,21,24,27,36,45,54,63,72],"y":[0.7,0.43,0.35,0.3,0.25,0.21,0.19,0.17,0.16,0.15,0.14,0.12,0.11,0.1,0.09,0.09]},
{"m":"L","c":"tCho","s":"9","x":[1,3,4.5,6,9,12,15,18,21,24,27,36,45,54,63,72],"y":[0.8,0.5,0.4,0.34,0.28,0.24,0.22,0.2,0.18,0.17,0.16,0.14,0.12,0.11,0.1,0.1]},
{"m":"L","c":"tCho","s":"10","x":[1,3,4.5,6,9,12,15,18,21,24,27,36,45,54,63,72],"y":[1.0,0.6,0.48,0.42,0.34,0.3,0.27,0.24,0.22,0.21,0.2,0.17,0.15,0.14,0.13,0.12]},
{"m":"L","c":"tCho","s":"11","x":[1,3,4.5,6,9,12,15,18,21,24,27,36,45,54,63,72],"y":[0.9,0.55,0.45,0.38,0.31,0.27,0.24,0.22,0.2,0.19,0.18,0.15,0.14,0.13,0.12,0.11]},
{"m":"L","c":"tCho","s":"12","x":[1,3,4.5,6,9,12,15,18,21,24,27,36,45,54,63,72],"y":[1.7,1.0,0.82,0.7,0.58,0.5,0.45,0.41,0.38,0.36,0.34,0.3,0.27,0.25,0.23,0.22]},
{"m":"L","c":"tCho","s":"14","x":[1,3,4.5,6,9,12,15,18,21,24,27,36,45,54,63,72],"y":[1.5,0.9,0.72,0.62,0.51,0.44,0.4,0.36,0.33,0.31,0.3,0.26,0.23,0.21,0.2,0.19]},
{"m":"L","c":"tCho","s":"17","x":[1,3,4.5,6,9,12,15,18,21,24,27,36,45,54,63,72],"y":[3.0,1.8,1.45,1.25,1.0,0.9,0.8,0.72,0.67,0.63,0.6,0.52,0.47,0.43,0.41,0.4]},
{"m":"L","c":"tCho","s":"22","x":[1,3,4.5,6,9,12,15,18,21,24,27,36,45,54,63,72],"y":[4.2,2.5,2.0,1.7,1.4,1.2,1.1,1.0,0.9,0.85,0.8,0.7,0.65,0.6,0.57,0.55]},
{"m":"L","c":"tCho","s":"32","x":[1,3,4.5,6,9,12,15,18,21,24,27,36,45,54,63,72],"y":[5.9,3.5,2.8,2.4,2.0,1.75,1.55,1.4,1.3,1.2,1.15,1.0,0.92,0.85,0.8,0.75]},
{"m":"L","c":"tNAA","s":"BM","x":[1,3,4.5,6,9,12,15,18,21,24,27,36,45,54,63,72],"y":[0.32,0.2,0.16,0.14,0.12,0.1,0.09,0.08,0.08,0.07,0.07,0.06,0.05,0.05,0.05,0.04]},
{"m":"L","c":"tNAA","s":"9","x":[1,3,4.5,6,9,12,15,18,21,24,27,36,45,54,63,72],"y":[0.35,0.22,0.18,0.15,0.13,0.11,0.1,0.09,0.09,0.08,0.08,0.07,0.06,0.06,0.05,0.05]},
{"m":"L","c":"tNAA","s":"10","x":[1,3,4.5,6,9,12,15,18,21,24,27,36,45,54,63,72],"y":[0.45,0.27,0.22,0.19,0.16,0.14,0.13,0.12,0.11,0.1,0.09,0.08,0.07,0.07,0.06,0.06]},
{"m":"L","c":"tNAA","s":"11","x":[1,3,4.5,6,9,12,15,18,21,24,27,36,45,54,63,72],"y":[0.4,0.25,0.2,0.17,0.14,0.12,0.11,0.1,0.1,0.09,0.08,0.07,0.07,0.06,0.06,0.05]},
{"m":"L","c":"tNAA","s":"12","x":[1,3,4.5,6,9,12,15,18,21,24,27,36,45,54,63,72],"y":[0.55,0.33,0.27,0.23,0.19,0.17,0.15,0.14,0.13,0.12,0.11,0.1,0.09,0.08,0.08,0.08]},
{"m":"L","c":"tNAA","s":"14","x":[1,3,4.5,6,9,12,15,18,21,24,27,36,45,54,63,72],"y":[0.5,0.3,0.25,0.21,0.17,0.15,0.14,0.13,0.12,0.11,0.1,0.09,0.08,0.08,0.07,0.07]},
{"m":"L","c":"tNAA","s":"17","x":[1,3,4.5,6,9,12,15,18,21,24,27,36,45,54,63,72],"y":[0.65,0.4,0.32,0.28,0.23,0.2,0.18,0.17,0.16,0.15,0.14,0.12,0.11,0.1,0.1,0.09]},
{"m":"L","c":"tNAA","s":"22","x":[1,3,4.5,6,9,12,15,18,21,24,27,36,45,54,63,72],"y":[1.45,1.0,0.82,0.7,0.58,0.5,0.46,0.42,0.39,0.37,0.35,0.31,0.28,0.26,0.25,0.24]},
{"m":"L","c":"tNAA","s":"32","x":[1,3,4.5,6,9,12,15,18,21,24,27,36,45,54,63,72],"y":[1.85,1.1,0.9,0.78,0.64,0.55,0.5,0.46,0.43,0.4,0.38,0.34,0.31,0.29,0.27,0.26]}
]},
"columns":4,
"spacing":{"row":40,"column":40},
"bounds":"flush",
"concat":[
{"width":121,"height":109,"title":"Glu","data":{"name":"d"},"transform":[{"filter":"datum.m=='B'&&datum.c=='Glu'"},{"flatten":["x","y"]}],"mark":{"type":"line","clip":true,"strokeWidth":1.1,"point":{"filled":true,"size":8}},"encoding":{"x":{"field":"x","type":"quantitative","scale":{"domain":[0,76]},"axis":{"values":[20,40,60],"title":null}},"y":{"field":"y","type":"quantitative","scale":{"domain":[-21.4,21]},"axis":{"values":[-20,-10,0,10,20],"title":"Bias (%)"}},"color":{"field":"s","type":"nominal","title":null,"scale":{"domain":["BM","9","10","11","12","14","17","22","32"],"range":["#ee1c1c","#1c1cd6","#2bd62b","#e02ee0","#7f9f1f","#f2f200","#a11d33","#3399e6","#1fe6f0"]},"legend":{"orient":"none","legendX":605,"legendY":106,"symbolType":"M-1,0H1M0,-1V1M-0.3,-1H0.3M-0.3,1H0.3","symbolSize":676,"symbolStrokeWidth":1.2,"labelFontSize":15,"labelOffset":3,"rowPadding":4,"padding":4,"strokeColor":"#888","fillColor":"#fff","labelColor":"#000"}},"strokeDash":{"field":"s","type":"nominal","title":null,"scale":{"domain":["BM","9","10","11","12","14","17","22","32"],"range":[[1,0],[4,2],[4,2],[4,2],[4,2],[4,2],[4,2],[4,2],[1,0]]},"legend":{"orient":"none","legendX":605,"legendY":106,"symbolType":"M-1,0H1M0,-1V1M-0.3,-1H0.3M-0.3,1H0.3","symbolSize":676,"symbolStrokeWidth":1.2,"labelFontSize":15,"labelOffset":3,"rowPadding":4,"padding":4,"strokeColor":"#888","fillColor":"#fff","labelColor":"#000"}}}},
{"width":121,"height":109,"title":"tCr","data":{"name":"d"},"transform":[{"filter":"datum.m=='B'&&datum.c=='tCr'"},{"flatten":["x","y"]}],"mark":{"type":"line","clip":true,"strokeWidth":1.1,"point":{"filled":true,"size":8}},"encoding":{"x":{"field":"x","type":"quantitative","scale":{"domain":[0,76]},"axis":{"values":[20,40,60],"title":null}},"y":{"field":"y","type":"quantitative","scale":{"domain":[-2.8,3.0]},"axis":{"values":[-2,0,2],"title":null}},"color":{"field":"s","type":"nominal","title":null,"scale":{"domain":["BM","9","10","11","12","14","17","22","32"],"range":["#ee1c1c","#1c1cd6","#2bd62b","#e02ee0","#7f9f1f","#f2f200","#a11d33","#3399e6","#1fe6f0"]}},"strokeDash":{"field":"s","type":"nominal","title":null,"scale":{"domain":["BM","9","10","11","12","14","17","22","32"],"range":[[1,0],[4,2],[4,2],[4,2],[4,2],[4,2],[4,2],[4,2],[1,0]]}}}},
{"width":121,"height":109,"title":"tCho","data":{"name":"d"},"transform":[{"filter":"datum.m=='B'&&datum.c=='tCho'"},{"flatten":["x","y"]}],"mark":{"type":"line","clip":true,"strokeWidth":1.1,"point":{"filled":true,"size":8}},"encoding":{"x":{"field":"x","type":"quantitative","scale":{"domain":[0,76]},"axis":{"values":[20,40,60],"title":null}},"y":{"field":"y","type":"quantitative","scale":{"domain":[-11.5,16.2]},"axis":{"values":[-10,0,10],"title":null}},"color":{"field":"s","type":"nominal","title":null,"scale":{"domain":["BM","9","10","11","12","14","17","22","32"],"range":["#ee1c1c","#1c1cd6","#2bd62b","#e02ee0","#7f9f1f","#f2f200","#a11d33","#3399e6","#1fe6f0"]}},"strokeDash":{"field":"s","type":"nominal","title":null,"scale":{"domain":["BM","9","10","11","12","14","17","22","32"],"range":[[1,0],[4,2],[4,2],[4,2],[4,2],[4,2],[4,2],[4,2],[1,0]]}}}},
{"width":121,"height":109,"title":"tNAA","data":{"name":"d"},"transform":[{"filter":"datum.m=='B'&&datum.c=='tNAA'"},{"flatten":["x","y"]}],"mark":{"type":"line","clip":true,"strokeWidth":1.1,"point":{"filled":true,"size":8}},"encoding":{"x":{"field":"x","type":"quantitative","scale":{"domain":[0,76]},"axis":{"values":[20,40,60],"title":null}},"y":{"field":"y","type":"quantitative","scale":{"domain":[-3,8.3]},"axis":{"values":[-2,0,2,4,6,8],"title":null}},"color":{"field":"s","type":"nominal","title":null,"scale":{"domain":["BM","9","10","11","12","14","17","22","32"],"range":["#ee1c1c","#1c1cd6","#2bd62b","#e02ee0","#7f9f1f","#f2f200","#a11d33","#3399e6","#1fe6f0"]}},"strokeDash":{"field":"s","type":"nominal","title":null,"scale":{"domain":["BM","9","10","11","12","14","17","22","32"],"range":[[1,0],[4,2],[4,2],[4,2],[4,2],[4,2],[4,2],[4,2],[1,0]]}}}},
{"width":121,"height":109,"data":{"name":"d"},"transform":[{"filter":"datum.m=='C'&&datum.c=='Glu'"},{"flatten":["x","y"]}],"mark":{"type":"line","clip":true,"strokeWidth":1.1,"point":{"filled":true,"size":8}},"encoding":{"x":{"field":"x","type":"quantitative","scale":{"domain":[0,76]},"axis":{"values":[20,40,60],"title":null}},"y":{"field":"y","type":"quantitative","scale":{"domain":[0,8.2]},"axis":{"values":[0,2,4,6,8],"title":"CoV (%)"}},"color":{"field":"s","type":"nominal","title":null,"scale":{"domain":["BM","9","10","11","12","14","17","22","32"],"range":["#ee1c1c","#1c1cd6","#2bd62b","#e02ee0","#7f9f1f","#f2f200","#a11d33","#3399e6","#1fe6f0"]}},"strokeDash":{"field":"s","type":"nominal","title":null,"scale":{"domain":["BM","9","10","11","12","14","17","22","32"],"range":[[1,0],[4,2],[4,2],[4,2],[4,2],[4,2],[4,2],[4,2],[1,0]]}}}},
{"width":121,"height":109,"data":{"name":"d"},"transform":[{"filter":"datum.m=='C'&&datum.c=='tCr'"},{"flatten":["x","y"]}],"mark":{"type":"line","clip":true,"strokeWidth":1.1,"point":{"filled":true,"size":8}},"encoding":{"x":{"field":"x","type":"quantitative","scale":{"domain":[0,76]},"axis":{"values":[20,40,60],"title":null}},"y":{"field":"y","type":"quantitative","scale":{"domain":[0,3]},"axis":{"values":[0,1,2,3],"title":null}},"color":{"field":"s","type":"nominal","title":null,"scale":{"domain":["BM","9","10","11","12","14","17","22","32"],"range":["#ee1c1c","#1c1cd6","#2bd62b","#e02ee0","#7f9f1f","#f2f200","#a11d33","#3399e6","#1fe6f0"]}},"strokeDash":{"field":"s","type":"nominal","title":null,"scale":{"domain":["BM","9","10","11","12","14","17","22","32"],"range":[[1,0],[4,2],[4,2],[4,2],[4,2],[4,2],[4,2],[4,2],[1,0]]}}}},
{"width":121,"height":109,"data":{"name":"d"},"transform":[{"filter":"datum.m=='C'&&datum.c=='tCho'"},{"flatten":["x","y"]}],"mark":{"type":"line","clip":true,"strokeWidth":1.1,"point":{"filled":true,"size":8}},"encoding":{"x":{"field":"x","type":"quantitative","scale":{"domain":[0,76]},"axis":{"values":[20,40,60],"title":null}},"y":{"field":"y","type":"quantitative","scale":{"domain":[0,7]},"axis":{"values":[0,2,4,6],"title":null}},"color":{"field":"s","type":"nominal","title":null,"scale":{"domain":["BM","9","10","11","12","14","17","22","32"],"range":["#ee1c1c","#1c1cd6","#2bd62b","#e02ee0","#7f9f1f","#f2f200","#a11d33","#3399e6","#1fe6f0"]}},"strokeDash":{"field":"s","type":"nominal","title":null,"scale":{"domain":["BM","9","10","11","12","14","17","22","32"],"range":[[1,0],[4,2],[4,2],[4,2],[4,2],[4,2],[4,2],[4,2],[1,0]]}}}},
{"width":121,"height":109,"data":{"name":"d"},"transform":[{"filter":"datum.m=='C'&&datum.c=='tNAA'"},{"flatten":["x","y"]}],"mark":{"type":"line","clip":true,"strokeWidth":1.1,"point":{"filled":true,"size":8}},"encoding":{"x":{"field":"x","type":"quantitative","scale":{"domain":[0,76]},"axis":{"values":[20,40,60],"title":null}},"y":{"field":"y","type":"quantitative","scale":{"domain":[0,3]},"axis":{"values":[0,1,2,3],"title":null}},"color":{"field":"s","type":"nominal","title":null,"scale":{"domain":["BM","9","10","11","12","14","17","22","32"],"range":["#ee1c1c","#1c1cd6","#2bd62b","#e02ee0","#7f9f1f","#f2f200","#a11d33","#3399e6","#1fe6f0"]}},"strokeDash":{"field":"s","type":"nominal","title":null,"scale":{"domain":["BM","9","10","11","12","14","17","22","32"],"range":[[1,0],[4,2],[4,2],[4,2],[4,2],[4,2],[4,2],[4,2],[1,0]]}}}},
{"width":121,"height":109,"data":{"name":"d"},"transform":[{"filter":"datum.m=='R'&&datum.c=='Glu'"},{"flatten":["x","y"]}],"mark":{"type":"line","clip":true,"strokeWidth":1.1,"point":{"filled":true,"size":8}},"encoding":{"x":{"field":"x","type":"quantitative","scale":{"domain":[0,76]},"axis":{"values":[20,40,60],"title":null}},"y":{"field":"y","type":"quantitative","scale":{"domain":[0,3]},"axis":{"values":[0,1,2,3],"title":"RMSE (mM)"}},"color":{"field":"s","type":"nominal","title":null,"scale":{"domain":["BM","9","10","11","12","14","17","22","32"],"range":["#ee1c1c","#1c1cd6","#2bd62b","#e02ee0","#7f9f1f","#f2f200","#a11d33","#3399e6","#1fe6f0"]}},"strokeDash":{"field":"s","type":"nominal","title":null,"scale":{"domain":["BM","9","10","11","12","14","17","22","32"],"range":[[1,0],[4,2],[4,2],[4,2],[4,2],[4,2],[4,2],[4,2],[1,0]]}}}},
{"width":121,"height":109,"data":{"name":"d"},"transform":[{"filter":"datum.m=='R'&&datum.c=='tCr'"},{"flatten":["x","y"]}],"mark":{"type":"line","clip":true,"strokeWidth":1.1,"point":{"filled":true,"size":8}},"encoding":{"x":{"field":"x","type":"quantitative","scale":{"domain":[0,76]},"axis":{"values":[20,40,60],"title":null}},"y":{"field":"y","type":"quantitative","scale":{"domain":[0,0.3]},"axis":{"values":[0,0.1,0.2,0.3],"title":null}},"color":{"field":"s","type":"nominal","title":null,"scale":{"domain":["BM","9","10","11","12","14","17","22","32"],"range":["#ee1c1c","#1c1cd6","#2bd62b","#e02ee0","#7f9f1f","#f2f200","#a11d33","#3399e6","#1fe6f0"]}},"strokeDash":{"field":"s","type":"nominal","title":null,"scale":{"domain":["BM","9","10","11","12","14","17","22","32"],"range":[[1,0],[4,2],[4,2],[4,2],[4,2],[4,2],[4,2],[4,2],[1,0]]}}}},
{"width":121,"height":109,"data":{"name":"d"},"transform":[{"filter":"datum.m=='R'&&datum.c=='tCho'"},{"flatten":["x","y"]}],"mark":{"type":"line","clip":true,"strokeWidth":1.1,"point":{"filled":true,"size":8}},"encoding":{"x":{"field":"x","type":"quantitative","scale":{"domain":[0,76]},"axis":{"values":[20,40,60],"title":null}},"y":{"field":"y","type":"quantitative","scale":{"domain":[0,0.4]},"axis":{"values":[0,0.2,0.4],"title":null}},"color":{"field":"s","type":"nominal","title":null,"scale":{"domain":["BM","9","10","11","12","14","17","22","32"],"range":["#ee1c1c","#1c1cd6","#2bd62b","#e02ee0","#7f9f1f","#f2f200","#a11d33","#3399e6","#1fe6f0"]}},"strokeDash":{"field":"s","type":"nominal","title":null,"scale":{"domain":["BM","9","10","11","12","14","17","22","32"],"range":[[1,0],[4,2],[4,2],[4,2],[4,2],[4,2],[4,2],[4,2],[1,0]]}}}},
{"width":121,"height":109,"data":{"name":"d"},"transform":[{"filter":"datum.m=='R'&&datum.c=='tNAA'"},{"flatten":["x","y"]}],"mark":{"type":"line","clip":true,"strokeWidth":1.1,"point":{"filled":true,"size":8}},"encoding":{"x":{"field":"x","type":"quantitative","scale":{"domain":[0,76]},"axis":{"values":[20,40,60],"title":null}},"y":{"field":"y","type":"quantitative","scale":{"domain":[0,0.85]},"axis":{"values":[0,0.2,0.4,0.6,0.8],"title":null}},"color":{"field":"s","type":"nominal","title":null,"scale":{"domain":["BM","9","10","11","12","14","17","22","32"],"range":["#ee1c1c","#1c1cd6","#2bd62b","#e02ee0","#7f9f1f","#f2f200","#a11d33","#3399e6","#1fe6f0"]}},"strokeDash":{"field":"s","type":"nominal","title":null,"scale":{"domain":["BM","9","10","11","12","14","17","22","32"],"range":[[1,0],[4,2],[4,2],[4,2],[4,2],[4,2],[4,2],[4,2],[1,0]]}}}},
{"width":121,"height":109,"data":{"name":"d"},"transform":[{"filter":"datum.m=='L'&&datum.c=='Glu'"},{"flatten":["x","y"]}],"mark":{"type":"line","clip":true,"strokeWidth":1.1,"point":{"filled":true,"size":8}},"encoding":{"x":{"field":"x","type":"quantitative","scale":{"domain":[0,76]},"axis":{"values":[20,40,60],"title":["Sampling","Durations (min)"]}},"y":{"field":"y","type":"quantitative","scale":{"domain":[0,3.5]},"axis":{"values":[0,1,2,3],"title":"CRLB (%)"}},"color":{"field":"s","type":"nominal","title":null,"scale":{"domain":["BM","9","10","11","12","14","17","22","32"],"range":["#ee1c1c","#1c1cd6","#2bd62b","#e02ee0","#7f9f1f","#f2f200","#a11d33","#3399e6","#1fe6f0"]}},"strokeDash":{"field":"s","type":"nominal","title":null,"scale":{"domain":["BM","9","10","11","12","14","17","22","32"],"range":[[1,0],[4,2],[4,2],[4,2],[4,2],[4,2],[4,2],[4,2],[1,0]]}}}},
{"width":121,"height":109,"data":{"name":"d"},"transform":[{"filter":"datum.m=='L'&&datum.c=='tCr'"},{"flatten":["x","y"]}],"mark":{"type":"line","clip":true,"strokeWidth":1.1,"point":{"filled":true,"size":8}},"encoding":{"x":{"field":"x","type":"quantitative","scale":{"domain":[0,76]},"axis":{"values":[20,40,60],"title":["Sampling","Durations (min)"]}},"y":{"field":"y","type":"quantitative","scale":{"domain":[0,4.1]},"axis":{"values":[0,1,2,3,4],"title":null}},"color":{"field":"s","type":"nominal","title":null,"scale":{"domain":["BM","9","10","11","12","14","17","22","32"],"range":["#ee1c1c","#1c1cd6","#2bd62b","#e02ee0","#7f9f1f","#f2f200","#a11d33","#3399e6","#1fe6f0"]}},"strokeDash":{"field":"s","type":"nominal","title":null,"scale":{"domain":["BM","9","10","11","12","14","17","22","32"],"range":[[1,0],[4,2],[4,2],[4,2],[4,2],[4,2],[4,2],[4,2],[1,0]]}}}},
{"width":121,"height":109,"data":{"name":"d"},"transform":[{"filter":"datum.m=='L'&&datum.c=='tCho'"},{"flatten":["x","y"]}],"mark":{"type":"line","clip":true,"strokeWidth":1.1,"point":{"filled":true,"size":8}},"encoding":{"x":{"field":"x","type":"quantitative","scale":{"domain":[0,76]},"axis":{"values":[20,40,60],"title":["Sampling","Durations (min)"]}},"y":{"field":"y","type":"quantitative","scale":{"domain":[0,6.1]},"axis":{"values":[0,2,4,6],"title":null}},"color":{"field":"s","type":"nominal","title":null,"scale":{"domain":["BM","9","10","11","12","14","17","22","32"],"range":["#ee1c1c","#1c1cd6","#2bd62b","#e02ee0","#7f9f1f","#f2f200","#a11d33","#3399e6","#1fe6f0"]}},"strokeDash":{"field":"s","type":"nominal","title":null,"scale":{"domain":["BM","9","10","11","12","14","17","22","32"],"range":[[1,0],[4,2],[4,2],[4,2],[4,2],[4,2],[4,2],[4,2],[1,0]]}}}},
{"width":121,"height":109,"data":{"name":"d"},"transform":[{"filter":"datum.m=='L'&&datum.c=='tNAA'"},{"flatten":["x","y"]}],"mark":{"type":"line","clip":true,"strokeWidth":1.1,"point":{"filled":true,"size":8}},"encoding":{"x":{"field":"x","type":"quantitative","scale":{"domain":[0,76]},"axis":{"values":[20,40,60],"title":["Sampling","Durations (min)"]}},"y":{"field":"y","type":"quantitative","scale":{"domain":[0,2.1]},"axis":{"values":[0,1,2],"title":null}},"color":{"field":"s","type":"nominal","title":null,"scale":{"domain":["BM","9","10","11","12","14","17","22","32"],"range":["#ee1c1c","#1c1cd6","#2bd62b","#e02ee0","#7f9f1f","#f2f200","#a11d33","#3399e6","#1fe6f0"]}},"strokeDash":{"field":"s","type":"nominal","title":null,"scale":{"domain":["BM","9","10","11","12","14","17","22","32"],"range":[[1,0],[4,2],[4,2],[4,2],[4,2],[4,2],[4,2],[4,2],[1,0]]}}}}
],
"config":{
"font":"Liberation Sans",
"background":"white",
"view":{"stroke":"#9a9a9a","strokeWidth":1},
"axis":{"domain":false,"grid":false,"tickSize":-3,"tickColor":"#888","labelFontSize":14,"labelColor":"#262626","titleFontSize":15,"titleFontWeight":"normal","titleColor":"#000","format":"~f"},
"axisX":{"labelPadding":6,"titlePadding":1,"titleFontSize":14,"titleLineHeight":15},
"axisY":{"labelPadding":6,"titlePadding":0},
"title":{"fontSize":14,"fontWeight":"bold","offset":0,"color":"#000"}
}
}
